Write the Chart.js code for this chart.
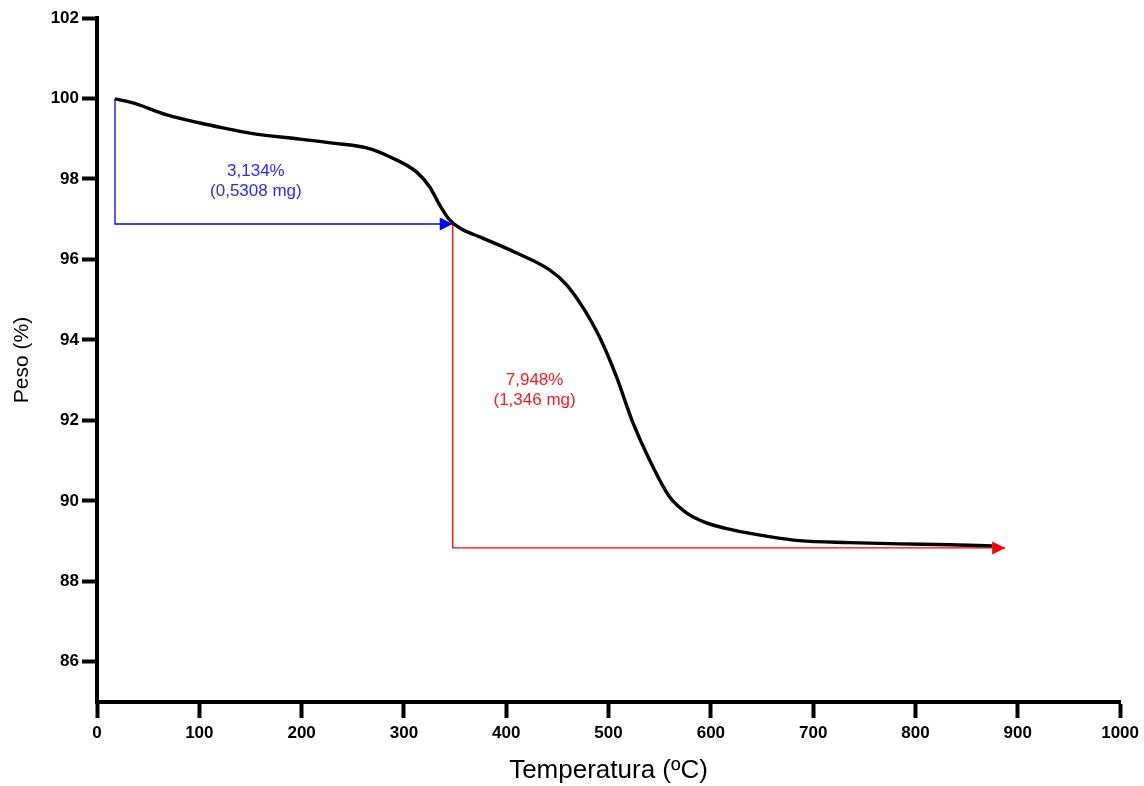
<!DOCTYPE html>
<html>
<head>
<meta charset="utf-8">
<script src="https://cdn.jsdelivr.net/npm/chart.js@4/dist/chart.umd.min.js"></script>
<style>
  body { margin: 0; background: #fff; }
  canvas { display: block; }
</style>
</head>
<body>
<canvas id="tgaChart" width="1144" height="786"></canvas>
<script>
// --- Datos de la curva TGA ---
const temperatura = [17.6, 35.2, 68.4, 100.6, 123.0, 149.4, 198.2, 230.5, 263.7, 286.1, 312.5, 325.2, 335.0, 344.7,
  354.5, 377.0, 410.2, 442.4, 459.0, 474.6, 491.2, 507.8, 523.4, 540.0, 559.6, 576.2, 595.7, 621.1, 657.2,
  686.5, 735.4, 784.2, 833.0, 875.0];
const peso = [99.99, 99.89, 99.59, 99.39, 99.27, 99.14, 98.99, 98.89, 98.77, 98.55, 98.17, 97.80, 97.35, 96.98,
  96.78, 96.53, 96.16, 95.74, 95.37, 94.82, 94.07, 93.08, 91.97, 91.02, 90.10, 89.70, 89.45, 89.28, 89.11,
  89.01, 88.96, 88.93, 88.91, 88.88];

// --- Flechas de pérdida de masa ---
const paso1X = [17.6, 17.6, 347.7];
const paso1Y = [100.0, 96.88, 96.88];
const paso2X = [347.7, 347.7, 887.7];
const paso2Y = [96.88, 88.83, 88.83];

const etiqueta1 = ['3,134%', '(0,5308 mg)'];
const etiqueta2 = ['7,948%', '(1,346 mg)'];

// --- Ticks de los ejes ---
const xTicks = [0, 100, 200, 300, 400, 500, 600, 700, 800, 900, 1000];
const yTicks = [86, 88, 90, 92, 94, 96, 98, 100, 102];

const toPoints = (xs, ys) => xs.map((x, i) => ({ x: x, y: ys[i] }));

// Dibuja las puntas de flecha y los textos de cada paso
const annotationPlugin = {
  id: 'annotations',
  afterDatasetsDraw(chart) {
    const ctx = chart.ctx;
    const xs = chart.scales.x;
    const ys = chart.scales.y;

    chart.data.datasets.forEach((ds, i) => {
      if (!ds.arrow) return;
      const pts = chart.getDatasetMeta(i).data;
      const tip = pts[pts.length - 1];
      ctx.save();
      ctx.fillStyle = ds.borderColor;
      ctx.beginPath();
      ctx.moveTo(tip.x, tip.y);
      ctx.lineTo(tip.x - 13, tip.y - 6.5);
      ctx.lineTo(tip.x - 13, tip.y + 6.5);
      ctx.closePath();
      ctx.fill();
      ctx.restore();
    });

    const labels = [
      { lines: etiqueta1, x: 155.3, y: 98.2, color: '#2b2bff' },
      { lines: etiqueta2, x: 427.7, y: 93.0, color: '#ff1a1a' }
    ];
    ctx.save();
    ctx.font = '17px "Liberation Sans", Arial, sans-serif';
    ctx.textAlign = 'center';
    ctx.textBaseline = 'middle';
    labels.forEach(l => {
      ctx.fillStyle = l.color;
      const px = xs.getPixelForValue(l.x);
      const py = ys.getPixelForValue(l.y);
      l.lines.forEach((t, k) => ctx.fillText(t, px, py + k * 20));
    });
    ctx.restore();
  }
};

const tickFont = { family: '"Liberation Sans", Arial, sans-serif', size: 17, weight: 'bold' };

new Chart(document.getElementById('tgaChart'), {
  type: 'line',
  data: {
    datasets: [
      {
        label: 'TGA',
        data: toPoints(temperatura, peso),
        borderColor: '#000',
        borderWidth: 3.4,
        pointRadius: 0,
        cubicInterpolationMode: 'monotone',
        order: 0
      },
      {
        label: 'Paso 1',
        data: toPoints(paso1X, paso1Y),
        borderColor: '#0000ff',
        borderWidth: 1.3,
        pointRadius: 0,
        tension: 0,
        arrow: true,
        order: 2
      },
      {
        label: 'Paso 2',
        data: toPoints(paso2X, paso2Y),
        borderColor: '#ff0000',
        borderWidth: 1.3,
        pointRadius: 0,
        tension: 0,
        arrow: true,
        order: 1
      }
    ]
  },
  options: {
    responsive: false,
    animation: false,
    events: [],
    layout: { padding: { top: 18, right: 23, left: 0, bottom: 0 } },
    plugins: {
      legend: { display: false },
      tooltip: { enabled: false }
    },
    scales: {
      x: {
        type: 'linear',
        min: 0,
        max: 1000,
        afterBuildTicks: s => { s.ticks = xTicks.map(v => ({ value: v })); },
        afterFit: s => { s.height = 84; },
        grid: { drawOnChartArea: false, drawTicks: true, tickLength: 16, tickWidth: 4, tickColor: '#000' },
        border: { display: true, color: '#000', width: 4 },
        ticks: { color: '#000', font: tickFont, padding: 5, maxRotation: 0, callback: v => String(v) },
        title: {
          display: true, text: 'Temperatura (ºC)', color: '#000',
          font: { family: '"Liberation Sans", Arial, sans-serif', size: 26 },
          padding: { top: 4, bottom: 0 }
        }
      },
      y: {
        type: 'linear',
        min: 85,
        max: 102,
        afterBuildTicks: s => { s.ticks = yTicks.map(v => ({ value: v })); },
        afterFit: s => { s.width = 97; },
        grid: { drawOnChartArea: false, drawTicks: true, tickLength: 15, tickWidth: 4, tickColor: '#000' },
        border: { display: true, color: '#000', width: 4 },
        ticks: { color: '#000', font: tickFont, padding: 3, callback: v => String(v) },
        title: {
          display: true, text: 'Peso (%)', color: '#000',
          font: { family: '"Liberation Sans", Arial, sans-serif', size: 21 },
          padding: { top: 10, bottom: 0 }
        }
      }
    }
  },
  plugins: [annotationPlugin]
});
</script>
</body>
</html>
